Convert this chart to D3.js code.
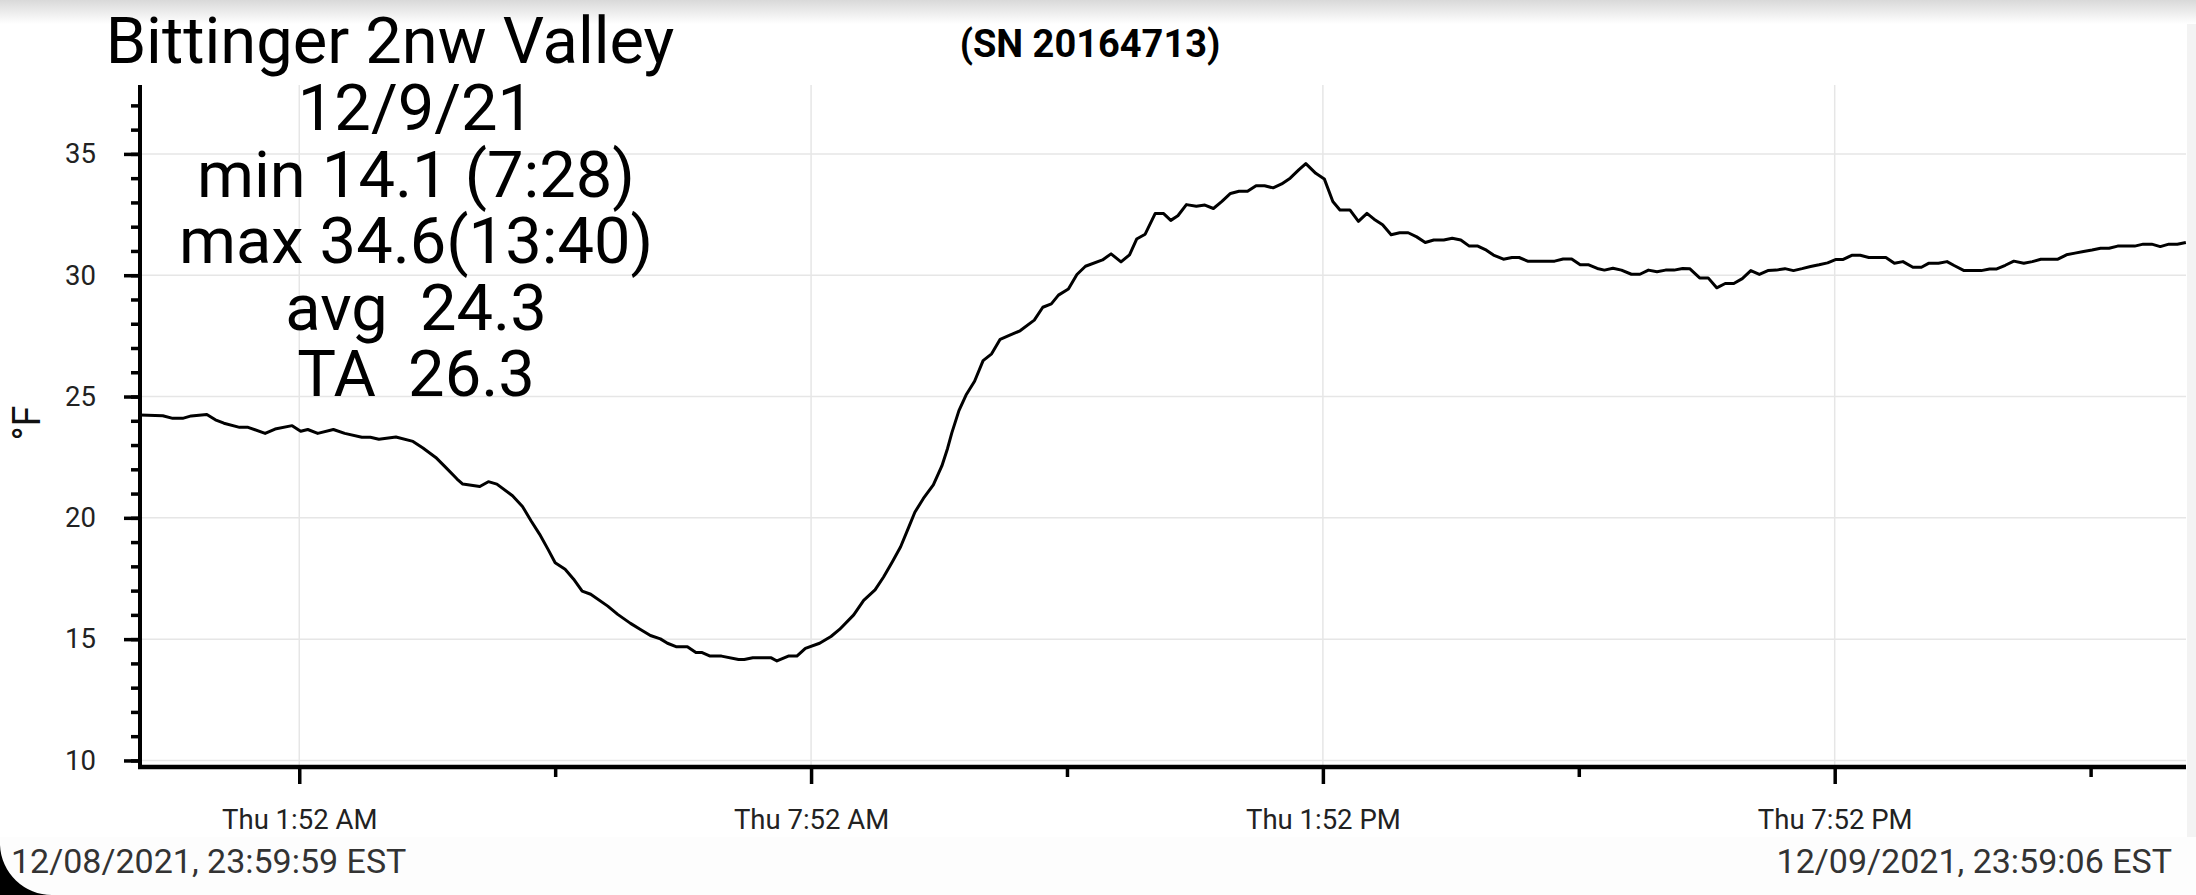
<!DOCTYPE html>
<html>
<head>
<meta charset="utf-8">
<script src="https://cdn.jsdelivr.net/npm/d3@7"></script>
<style>
  html, body { margin: 0; padding: 0; background: #fff; }
  svg { display: block; font-family: Roboto, sans-serif; }
  text { white-space: pre; }
</style>
</head>
<body>
<svg id="chart" width="2196" height="895"></svg>
<script>
// readings: minutes after midnight 12/09/21, temperature in °F
const minutes = [
  0, 16, 23, 30, 36, 47, 53, 59, 70, 76, 88, 95, 107, 113, 118, 125, 136, 144, 156, 162,
  168, 180, 192, 199, 208, 215, 223, 227, 239, 245, 251, 262, 269, 275, 281, 287, 292, 299, 305, 311,
  317, 329, 336, 345, 352, 359, 366, 371, 377, 385, 391, 395, 401, 409, 421, 425, 431, 444, 448, 456,
  462, 468, 478, 486, 492, 502, 509, 517, 523, 529, 535, 541, 545, 551, 558, 564, 568, 571, 576, 581,
  587, 593, 599, 605, 611, 619, 629, 635, 641, 646, 653, 659, 665, 677, 683, 690, 696, 701, 707, 714,
  720, 725, 730, 736, 743, 749, 755, 761, 767, 773, 779, 785, 791, 797, 803, 809, 815, 820, 827, 833,
  839, 844, 851, 857, 863, 868, 874, 880, 886, 892, 898, 904, 910, 917, 923, 929, 935, 941, 947, 952,
  959, 965, 970, 976, 982, 995, 1001, 1007, 1013, 1019, 1025, 1030, 1036, 1042, 1049, 1055, 1061, 1067, 1073, 1079,
  1085, 1090, 1097, 1103, 1109, 1115, 1121, 1127, 1133, 1139, 1145, 1151, 1157, 1163, 1169, 1175, 1181, 1187, 1193, 1198,
  1204, 1210, 1216, 1222, 1228, 1234, 1240, 1247, 1253, 1258, 1265, 1271, 1276, 1283, 1289, 1295, 1301, 1306, 1312, 1318,
  1325, 1331, 1337, 1343, 1349, 1355, 1361, 1367, 1373, 1379, 1385, 1391, 1397, 1403, 1409, 1415, 1421, 1427, 1433, 1439
]
const tempF = [
  24.24, 24.21, 24.1, 24.1, 24.2, 24.26, 24.04, 23.9, 23.73, 23.73, 23.48, 23.66, 23.8, 23.57, 23.64, 23.48, 23.64, 23.48, 23.32, 23.32,
  23.24, 23.33, 23.15, 22.88, 22.49, 22.08, 21.6, 21.39, 21.29, 21.49, 21.39, 20.91, 20.47, 19.88, 19.33, 18.7, 18.15, 17.88, 17.47, 16.98,
  16.85, 16.36, 16.02, 15.65, 15.4, 15.15, 15.01, 14.83, 14.69, 14.69, 14.45, 14.45, 14.3, 14.3, 14.16, 14.16, 14.23, 14.23, 14.1, 14.3,
  14.3, 14.62, 14.83, 15.11, 15.4, 16.0, 16.6, 17.03, 17.56, 18.17, 18.81, 19.66, 20.23, 20.8, 21.36, 22.14, 22.86, 23.5, 24.42, 25.06,
  25.63, 26.48, 26.76, 27.36, 27.51, 27.71, 28.15, 28.68, 28.82, 29.18, 29.43, 30.03, 30.37, 30.63, 30.88, 30.55, 30.84, 31.49, 31.69, 32.54,
  32.54, 32.26, 32.45, 32.91, 32.84, 32.89, 32.75, 33.04, 33.37, 33.46, 33.46, 33.69, 33.69, 33.6, 33.76, 34.0, 34.34, 34.6, 34.2, 33.97,
  33.04, 32.69, 32.69, 32.22, 32.55, 32.31, 32.08, 31.67, 31.75, 31.75, 31.58, 31.35, 31.45, 31.45, 31.52, 31.45, 31.2, 31.2, 31.03, 30.83,
  30.66, 30.73, 30.73, 30.58, 30.58, 30.58, 30.67, 30.67, 30.43, 30.43, 30.28, 30.21, 30.29, 30.21, 30.04, 30.04, 30.21, 30.14, 30.21, 30.21,
  30.28, 30.27, 29.89, 29.89, 29.48, 29.66, 29.66, 29.86, 30.19, 30.03, 30.19, 30.21, 30.27, 30.19, 30.27, 30.36, 30.43, 30.51, 30.65, 30.65,
  30.82, 30.82, 30.73, 30.73, 30.73, 30.49, 30.56, 30.33, 30.33, 30.49, 30.49, 30.56, 30.4, 30.19, 30.19, 30.19, 30.26, 30.26, 30.41, 30.58,
  30.49, 30.56, 30.66, 30.66, 30.66, 30.84, 30.91, 30.98, 31.04, 31.11, 31.11, 31.2, 31.2, 31.2, 31.28, 31.28, 31.18, 31.28, 31.28, 31.35
]

const titleText = 'Bittinger 2nw Valley'
const serialText = '(SN 20164713)'
const statsLines = ['12/9/21', 'min 14.1 (7:28)', 'max 34.6(13:40)', 'avg  24.3', 'TA  26.3']
const startStamp = '12/08/2021, 23:59:59 EST'
const endStamp = '12/09/2021, 23:59:06 EST'
const majorTickTimes = ['01:52', '07:52', '13:52', '19:52']
const minorTickTimes = ['04:52', '10:52', '16:52', '22:52']
const yMajorTicks = [10, 15, 20, 25, 30, 35]

const day = new Date(2021, 11, 9)
const atMinute = m => new Date(day.getTime() + m * 60000)
const atClock = s => { const [h, m] = s.split(':').map(Number); return atMinute(h * 60 + m) }

const svg = d3.select('#chart')
const W = 2196, H = 895
const plot = { left: 140, right: 2186, top: 85, bottom: 767 }

// screenshot chrome: top shadow, right strip, footer band, rounded corner
const defs = svg.append('defs')
const grad = defs.append('linearGradient').attr('id', 'topShade').attr('x1', 0).attr('x2', 0).attr('y1', 0).attr('y2', 1)
grad.append('stop').attr('offset', '0%').attr('stop-color', '#d9d9d9')
grad.append('stop').attr('offset', '100%').attr('stop-color', '#ffffff')
svg.append('rect').attr('x', 0).attr('y', 0).attr('width', W).attr('height', 24).attr('fill', 'url(#topShade)')
svg.append('rect').attr('x', 0).attr('y', 837).attr('width', W).attr('height', H - 837).attr('fill', '#fdfdfd')
svg.append('rect').attr('x', plot.right + 1).attr('y', 24).attr('width', W - plot.right - 1).attr('height', 813).attr('fill', '#f3f3f3')

const x = d3.scaleTime()
    .domain([new Date(2021, 11, 8, 23, 59, 59), new Date(2021, 11, 9, 23, 59, 6)])
    .range([plot.left, plot.right])
const y = d3.scaleLinear()
    .domain([9.73, 37.84])
    .range([plot.bottom, plot.top])

// grid
const grid = svg.append('g').attr('stroke', '#e6e6e6').attr('stroke-width', 1.5)
grid.selectAll('line.h').data(yMajorTicks).enter().append('line')
    .attr('x1', plot.left).attr('x2', plot.right)
    .attr('y1', d => y(d)).attr('y2', d => y(d))
grid.selectAll('line.v').data(majorTickTimes.map(atClock)).enter().append('line')
    .attr('x1', d => x(d)).attr('x2', d => x(d))
    .attr('y1', plot.top).attr('y2', plot.bottom)

// line
const line = d3.line()
    .x((d, i) => x(atMinute(minutes[i])))
    .y(d => y(d))

svg.append('path')
    .datum(tempF)
    .attr('fill', 'none')
    .attr('stroke', '#000')
    .attr('stroke-width', 3)
    .attr('stroke-linejoin', 'round')
    .attr('d', line)

// y axis: minor ticks every degree, labels every 5
const yMinor = svg.append('g')
    .attr('transform', 'translate(' + plot.left + ',0)')
    .call(d3.axisLeft(y).tickValues(d3.range(10, 38)).tickSize(9).tickFormat(''))
yMinor.select('.domain').remove()
yMinor.selectAll('.tick line').attr('stroke', '#000').attr('stroke-width', 3.5)

const yAxis = svg.append('g')
    .attr('transform', 'translate(' + plot.left + ',0)')
    .call(d3.axisLeft(y).tickValues(yMajorTicks).tickSize(16).tickPadding(28).tickSizeOuter(0))
yAxis.select('.domain').remove()
yAxis.selectAll('.tick line').attr('stroke', '#000').attr('stroke-width', 3.5)
yAxis.selectAll('.tick text').attr('font-size', 27.5).attr('font-family', 'Roboto').attr('fill', '#222')

svg.append('line')
    .attr('x1', plot.left).attr('x2', plot.left)
    .attr('y1', plot.top).attr('y2', plot.bottom + 2)
    .attr('stroke', '#000').attr('stroke-width', 4)

// x axis
const xMinor = svg.append('g')
    .attr('transform', 'translate(0,' + plot.bottom + ')')
    .call(d3.axisBottom(x).tickValues(minorTickTimes.map(atClock)).tickSize(10).tickFormat(''))
xMinor.select('.domain').remove()
xMinor.selectAll('.tick line').attr('stroke', '#000').attr('stroke-width', 3.5)

const xAxis = svg.append('g')
    .attr('transform', 'translate(0,' + plot.bottom + ')')
    .call(d3.axisBottom(x).tickValues(majorTickTimes.map(atClock)).tickSize(17).tickPadding(25)
        .tickFormat(d3.timeFormat('%a %-I:%M %p')))
xAxis.select('.domain').remove()
xAxis.selectAll('.tick line').attr('stroke', '#000').attr('stroke-width', 3.5)
xAxis.selectAll('.tick text').attr('font-size', 27.5).attr('font-family', 'Roboto').attr('fill', '#222')

svg.append('line')
    .attr('x1', plot.left - 2).attr('x2', plot.right)
    .attr('y1', plot.bottom).attr('y2', plot.bottom)
    .attr('stroke', '#000').attr('stroke-width', 4.5)

// axis title
svg.append('text')
    .attr('transform', 'translate(40,423) rotate(-90)')
    .attr('text-anchor', 'middle')
    .attr('font-size', 38)
    .attr('fill', '#111')
    .text('°F')

// titles and stats
svg.append('text')
    .attr('x', 390).attr('y', 63)
    .attr('text-anchor', 'middle')
    .attr('font-size', 65)
    .attr('fill', '#000')
    .text(titleText)

svg.append('text')
    .attr('x', 1090).attr('y', 57)
    .attr('text-anchor', 'middle')
    .attr('font-size', 38)
    .attr('font-weight', 'bold')
    .attr('fill', '#000')
    .text(serialText)

svg.append('g').selectAll('text').data(statsLines).enter().append('text')
    .attr('x', 416)
    .attr('y', (d, i) => 130 + i * 66.5)
    .attr('text-anchor', 'middle')
    .attr('font-size', 65)
    .attr('fill', '#000')
    .text(d => d)

svg.append('text')
    .attr('x', 11).attr('y', 873)
    .attr('font-size', 34)
    .attr('fill', '#333')
    .text(startStamp)

svg.append('text')
    .attr('x', 2172).attr('y', 873)
    .attr('text-anchor', 'end')
    .attr('font-size', 34)
    .attr('fill', '#333')
    .text(endStamp)

svg.append('path')
    .attr('d', 'M0,845 A52,52 0 0 0 52,895 L0,895 Z')
    .attr('fill', '#000')
</script>
</body>
</html>
